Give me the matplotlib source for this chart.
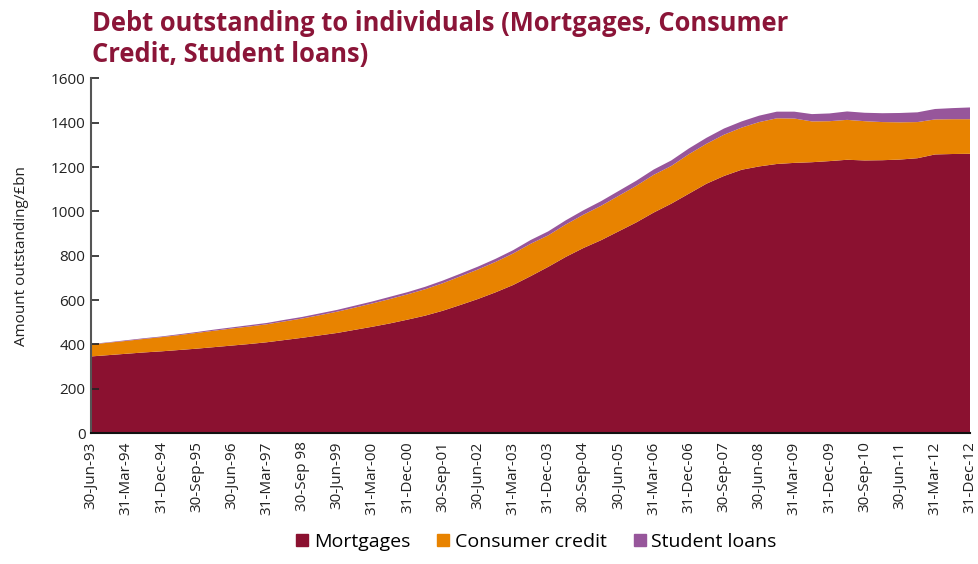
import matplotlib
matplotlib.use("Agg")
import matplotlib.pyplot as plt
from matplotlib.patches import Patch

plt.rcParams['font.family'] = ['Open Sans', 'DejaVu Sans']

# tick labels, one every three quarters
tick_labels = ['30-Jun-93', '31-Mar-94', '31-Dec-94', '30-Sep-95', '30-Jun-96',
               '31-Mar-97', '30-Sep 98', '30-Jun-99', '31-Mar-00', '31-Dec-00',
               '30-Sep-01', '30-Jun-02', '31-Mar-03', '31-Dec-03', '30-Sep-04',
               '30-Jun-05', '31-Mar-06', '31-Dec-06', '30-Sep-07', '30-Jun-08',
               '31-Mar-09', '31-Dec-09', '30-Sep-10', '30-Jun-11', '31-Mar-12',
               '31-Dec-12']

# amounts outstanding, £bn, sampled every half tick step
mortgages = [346, 352, 358, 364, 369, 375, 381, 388, 395, 402,
             410, 420, 430, 441, 452, 466, 480, 495, 512, 530,
             552, 578, 605, 635, 668, 708, 750, 795, 835, 870,
             910, 950, 995, 1035, 1080, 1125, 1160, 1188, 1203, 1214,
             1219, 1222, 1227, 1233, 1230, 1231, 1234, 1240, 1257, 1259,
             1260]
consumer_credit = [54, 56, 58, 61, 64, 67, 71, 74, 77, 79,
                   81, 84, 87, 91, 96, 100, 105, 110, 114, 119,
                   124, 129, 133, 137, 142, 146, 142, 146, 150, 155,
                   160, 165, 170, 170, 178, 180, 186, 190, 200, 206,
                   200, 184, 180, 180, 177, 172, 168, 163, 158, 157,
                   156]
student_loans = [2, 2, 3, 3, 3, 4, 4, 5, 5, 6,
                 6, 7, 7, 8, 8, 9, 9, 10, 10, 11,
                 12, 12, 13, 14, 15, 17, 18, 19, 20, 21,
                 22, 23, 24, 25, 26, 27, 28, 28, 29, 30,
                 31, 33, 35, 38, 38, 40, 42, 44, 47, 50,
                 53]

c_mort = '#8B1130'
c_cons = '#E88300'
c_stud = '#97569B'

x = list(range(len(mortgages)))

fig = plt.figure(figsize=(9.79, 5.64), dpi=100)
ax = fig.add_axes([0.093, 0.232, 0.898, 0.629])

ax.stackplot(x, mortgages, consumer_credit, student_loans,
             colors=[c_mort, c_cons, c_stud], linewidth=0)

ax.set_xlim(0, len(x) - 1)
ax.set_ylim(0, 1600)
ax.set_yticks(range(0, 1601, 200))
ax.set_xticks(range(0, len(x), 2))
ax.set_xticklabels(tick_labels, rotation=90)

ax.tick_params(axis='y', direction='in', length=6, width=1.2, colors='#222222',
               labelsize=11, pad=4)
ax.tick_params(axis='x', length=0, labelsize=11, colors='#222222', pad=6)

for side in ['top', 'right']:
    ax.spines[side].set_visible(False)
ax.spines['left'].set_color('#555555')
ax.spines['left'].set_linewidth(1.5)
ax.spines['bottom'].set_color('#111111')
ax.spines['bottom'].set_linewidth(1.5)

ax.set_ylabel('Amount outstanding/£bn', fontsize=11, color='#222222', labelpad=16)

fig.text(0.094, 0.982, 'Debt outstanding to individuals (Mortgages, Consumer\nCredit, Student loans)',
         fontsize=18.4, fontweight='bold', color='#8B1538', va='top', ha='left',
         linespacing=1.2)

handles = [Patch(color=c_mort, label='Mortgages'),
           Patch(color=c_cons, label='Consumer credit'),
           Patch(color=c_stud, label='Student loans')]
fig.legend(handles=handles, loc='lower center', bbox_to_anchor=(0.548, -0.008),
           ncol=3, frameon=False, fontsize=14, handlelength=0.6, handleheight=0.6,
           handletextpad=0.3, columnspacing=1.4)

fig.savefig('out.png', dpi=100)
